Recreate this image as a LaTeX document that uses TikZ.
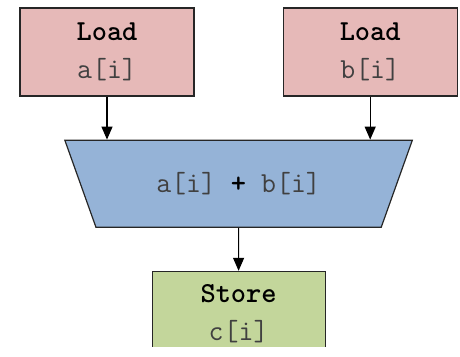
\documentclass[tikz,border=0pt]{standalone}
\usepackage{fontspec}
\usepackage{tikz}
\usetikzlibrary{positioning,calc,arrows.meta}
\usetikzlibrary{shapes.geometric}
\definecolor{ldcol}{HTML}{E6B9B8}
\definecolor{alucol}{HTML}{95B3D7}
\definecolor{stcol}{HTML}{C3D69B}
\tikzset{ op/.style={draw=black!85,line width=0.6pt,text=black!75,align=center,font=\ttfamily\fontsize{14.5}{19}\selectfont},
  load/.style={op,fill=ldcol,minimum width=87pt,minimum height=44pt},
  store/.style={op,fill=stcol,minimum width=86.5pt,minimum height=42.5pt},
  alu/.style={op,fill=alucol,trapezium,trapezium stretches=true,trapezium angle=61.6,shape border rotate=180,minimum width=174pt,minimum height=43.5pt},
  arr/.style={-{Triangle[width=5.5pt,length=6.5pt]},line width=0.6pt} }
\newcommand{\opname}[1]{\textcolor{black}{\bfseries #1}}

\begin{document}
\begin{tikzpicture}
   \useasboundingbox (0,0) rectangle (230pt,-178.5pt);
   \node[load] (lda) at (53.5pt,-26pt) {\opname{Load}\\a[i]};
   \node[load,right=44pt of lda] (ldb) {\opname{Load}\\b[i]};
   \coordinate (mid) at ($(lda.south)!0.5!(ldb.south)$);
   \node[alu,below=21.5pt of mid] (add) {a[i] \opname{+} b[i]};
   % store box runs off the lower edge
   \begin{scope}
     \clip (0,0) rectangle (230pt,-173.5pt);
     \node[store,below=21.5pt of add] (st) {\opname{Store}\\c[i]};
   \end{scope}
   \draw[arr] (lda) -- (lda |- add.north);
   \draw[arr] (ldb) -- (ldb |- add.north);
   \draw[arr] (add) -- (st);
  \end{tikzpicture}
\end{document}
